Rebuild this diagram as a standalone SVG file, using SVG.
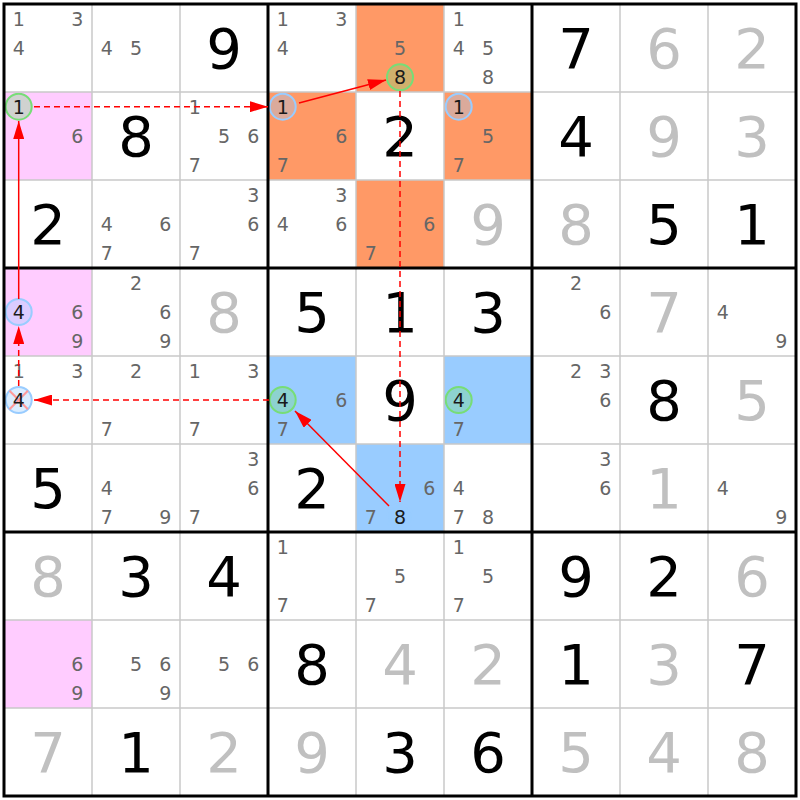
<svg xmlns="http://www.w3.org/2000/svg" width="800" height="800" viewBox="0 0 800 800">
<style>
.bg{fill:#ffffff}
.pink{fill:#ffccff}
.orange{fill:#ff9966}
.blue{fill:#99ccff}
.c{font-family:"DejaVu Sans","Liberation Sans",sans-serif;font-size:19px;fill:#666666;text-anchor:middle}
.cs{font-family:"DejaVu Sans","Liberation Sans",sans-serif;font-size:19px;fill:#1a1a1a;text-anchor:middle}
.g{font-family:"DejaVu Sans","Liberation Sans",sans-serif;font-size:56px;fill:#000000;text-anchor:middle}
.s{font-family:"DejaVu Sans","Liberation Sans",sans-serif;font-size:56px;fill:#c0c0c0;text-anchor:middle}
.rg{stroke:#77dd77;stroke-width:2;fill:#77dd77;fill-opacity:0.35}
.rb{stroke:#99ccff;stroke-width:2;fill:#99ccff;fill-opacity:0.35}
.thin{stroke:#c8c8c8;stroke-width:1.5}
.thick{stroke:#000000;stroke-width:3}
.ln{stroke:#ff0000;stroke-width:1.5;fill:none}
.dash{stroke-dasharray:6,4}
.x{stroke:#ff9999;stroke-width:2}
</style>
<defs>
<marker id="ah" markerUnits="userSpaceOnUse" markerWidth="18" markerHeight="11" refX="18" refY="5.5" orient="auto">
<path d="M0,0 L18,5.5 L0,11 Z" fill="#ff0000"/>
</marker>
</defs>
<rect x="0" y="0" width="800" height="800" fill="#ffffff"/>
<g id="cells">
<!-- Row 1 -->
<g id="r1c1" transform="translate(4,4)"><text class="c" x="14.7" y="21.6">1</text><text class="c" x="73.3" y="21.6">3</text><text class="c" x="14.7" y="50.9">4</text></g>
<g id="r1c2" transform="translate(92,4)"><text class="c" x="14.7" y="50.9">4</text><text class="c" x="44" y="50.9">5</text></g>
<g id="r1c3" transform="translate(180,4)"><text class="g" x="44" y="64.4">9</text></g>
<g id="r1c4" transform="translate(268,4)"><text class="c" x="14.7" y="21.6">1</text><text class="c" x="73.3" y="21.6">3</text><text class="c" x="14.7" y="50.9">4</text></g>
<g id="r1c5" transform="translate(356,4)"><rect class="orange" width="88" height="88"/><text class="c" x="44" y="50.9">5</text><circle class="rg" cx="44" cy="73.3" r="13"/><text class="cs" x="44" y="80.2">8</text></g>
<g id="r1c6" transform="translate(444,4)"><text class="c" x="14.7" y="21.6">1</text><text class="c" x="14.7" y="50.9">4</text><text class="c" x="44" y="50.9">5</text><text class="c" x="44" y="80.2">8</text></g>
<g id="r1c7" transform="translate(532,4)"><text class="g" x="44" y="64.4">7</text></g>
<g id="r1c8" transform="translate(620,4)"><text class="s" x="44" y="64.4">6</text></g>
<g id="r1c9" transform="translate(708,4)"><text class="s" x="44" y="64.4">2</text></g>
<!-- Row 2 -->
<g id="r2c1" transform="translate(4,92)"><rect class="pink" width="88" height="88"/><circle class="rg" cx="14.7" cy="14.7" r="13"/><text class="cs" x="14.7" y="21.6">1</text><text class="c" x="73.3" y="50.9">6</text></g>
<g id="r2c2" transform="translate(92,92)"><text class="g" x="44" y="64.4">8</text></g>
<g id="r2c3" transform="translate(180,92)"><text class="c" x="14.7" y="21.6">1</text><text class="c" x="44" y="50.9">5</text><text class="c" x="73.3" y="50.9">6</text><text class="c" x="14.7" y="80.2">7</text></g>
<g id="r2c4" transform="translate(268,92)"><rect class="orange" width="88" height="88"/><circle class="rb" cx="14.7" cy="14.7" r="13"/><text class="cs" x="14.7" y="21.6">1</text><text class="c" x="73.3" y="50.9">6</text><text class="c" x="14.7" y="80.2">7</text></g>
<g id="r2c5" transform="translate(356,92)"><text class="g" x="44" y="64.4">2</text></g>
<g id="r2c6" transform="translate(444,92)"><rect class="orange" width="88" height="88"/><circle class="rb" cx="14.7" cy="14.7" r="13"/><text class="cs" x="14.7" y="21.6">1</text><text class="c" x="44" y="50.9">5</text><text class="c" x="14.7" y="80.2">7</text></g>
<g id="r2c7" transform="translate(532,92)"><text class="g" x="44" y="64.4">4</text></g>
<g id="r2c8" transform="translate(620,92)"><text class="s" x="44" y="64.4">9</text></g>
<g id="r2c9" transform="translate(708,92)"><text class="s" x="44" y="64.4">3</text></g>
<!-- Row 3 -->
<g id="r3c1" transform="translate(4,180)"><text class="g" x="44" y="64.4">2</text></g>
<g id="r3c2" transform="translate(92,180)"><text class="c" x="14.7" y="50.9">4</text><text class="c" x="73.3" y="50.9">6</text><text class="c" x="14.7" y="80.2">7</text></g>
<g id="r3c3" transform="translate(180,180)"><text class="c" x="73.3" y="21.6">3</text><text class="c" x="73.3" y="50.9">6</text><text class="c" x="14.7" y="80.2">7</text></g>
<g id="r3c4" transform="translate(268,180)"><text class="c" x="73.3" y="21.6">3</text><text class="c" x="14.7" y="50.9">4</text><text class="c" x="73.3" y="50.9">6</text></g>
<g id="r3c5" transform="translate(356,180)"><rect class="orange" width="88" height="88"/><text class="c" x="73.3" y="50.9">6</text><text class="c" x="14.7" y="80.2">7</text></g>
<g id="r3c6" transform="translate(444,180)"><text class="s" x="44" y="64.4">9</text></g>
<g id="r3c7" transform="translate(532,180)"><text class="s" x="44" y="64.4">8</text></g>
<g id="r3c8" transform="translate(620,180)"><text class="g" x="44" y="64.4">5</text></g>
<g id="r3c9" transform="translate(708,180)"><text class="g" x="44" y="64.4">1</text></g>
<!-- Row 4 -->
<g id="r4c1" transform="translate(4,268)"><rect class="pink" width="88" height="88"/><circle class="rb" cx="14.7" cy="44" r="13"/><text class="cs" x="14.7" y="50.9">4</text><text class="c" x="73.3" y="50.9">6</text><text class="c" x="73.3" y="80.2">9</text></g>
<g id="r4c2" transform="translate(92,268)"><text class="c" x="44" y="21.6">2</text><text class="c" x="73.3" y="50.9">6</text><text class="c" x="73.3" y="80.2">9</text></g>
<g id="r4c3" transform="translate(180,268)"><text class="s" x="44" y="64.4">8</text></g>
<g id="r4c4" transform="translate(268,268)"><text class="g" x="44" y="64.4">5</text></g>
<g id="r4c5" transform="translate(356,268)"><text class="g" x="44" y="64.4">1</text></g>
<g id="r4c6" transform="translate(444,268)"><text class="g" x="44" y="64.4">3</text></g>
<g id="r4c7" transform="translate(532,268)"><text class="c" x="44" y="21.6">2</text><text class="c" x="73.3" y="50.9">6</text></g>
<g id="r4c8" transform="translate(620,268)"><text class="s" x="44" y="64.4">7</text></g>
<g id="r4c9" transform="translate(708,268)"><text class="c" x="14.7" y="50.9">4</text><text class="c" x="73.3" y="80.2">9</text></g>
<!-- Row 5 -->
<g id="r5c1" transform="translate(4,356)"><text class="c" x="14.7" y="21.6">1</text><text class="c" x="73.3" y="21.6">3</text><circle class="rb" cx="14.7" cy="44" r="13"/><line class="x" x1="5.5" y1="34.8" x2="23.9" y2="53.2"/><line class="x" x1="23.9" y1="34.8" x2="5.5" y2="53.2"/><text class="cs" x="14.7" y="50.9">4</text></g>
<g id="r5c2" transform="translate(92,356)"><text class="c" x="44" y="21.6">2</text><text class="c" x="14.7" y="80.2">7</text></g>
<g id="r5c3" transform="translate(180,356)"><text class="c" x="14.7" y="21.6">1</text><text class="c" x="73.3" y="21.6">3</text><text class="c" x="14.7" y="80.2">7</text></g>
<g id="r5c4" transform="translate(268,356)"><rect class="blue" width="88" height="88"/><circle class="rg" cx="14.7" cy="44" r="13"/><text class="cs" x="14.7" y="50.9">4</text><text class="c" x="73.3" y="50.9">6</text><text class="c" x="14.7" y="80.2">7</text></g>
<g id="r5c5" transform="translate(356,356)"><text class="g" x="44" y="64.4">9</text></g>
<g id="r5c6" transform="translate(444,356)"><rect class="blue" width="88" height="88"/><circle class="rg" cx="14.7" cy="44" r="13"/><text class="cs" x="14.7" y="50.9">4</text><text class="c" x="14.7" y="80.2">7</text></g>
<g id="r5c7" transform="translate(532,356)"><text class="c" x="44" y="21.6">2</text><text class="c" x="73.3" y="21.6">3</text><text class="c" x="73.3" y="50.9">6</text></g>
<g id="r5c8" transform="translate(620,356)"><text class="g" x="44" y="64.4">8</text></g>
<g id="r5c9" transform="translate(708,356)"><text class="s" x="44" y="64.4">5</text></g>
<!-- Row 6 -->
<g id="r6c1" transform="translate(4,444)"><text class="g" x="44" y="64.4">5</text></g>
<g id="r6c2" transform="translate(92,444)"><text class="c" x="14.7" y="50.9">4</text><text class="c" x="14.7" y="80.2">7</text><text class="c" x="73.3" y="80.2">9</text></g>
<g id="r6c3" transform="translate(180,444)"><text class="c" x="73.3" y="21.6">3</text><text class="c" x="73.3" y="50.9">6</text><text class="c" x="14.7" y="80.2">7</text></g>
<g id="r6c4" transform="translate(268,444)"><text class="g" x="44" y="64.4">2</text></g>
<g id="r6c5" transform="translate(356,444)"><rect class="blue" width="88" height="88"/><text class="c" x="73.3" y="50.9">6</text><text class="c" x="14.7" y="80.2">7</text><circle class="rb" cx="44" cy="73.3" r="13"/><text class="cs" x="44" y="80.2">8</text></g>
<g id="r6c6" transform="translate(444,444)"><text class="c" x="14.7" y="50.9">4</text><text class="c" x="14.7" y="80.2">7</text><text class="c" x="44" y="80.2">8</text></g>
<g id="r6c7" transform="translate(532,444)"><text class="c" x="73.3" y="21.6">3</text><text class="c" x="73.3" y="50.9">6</text></g>
<g id="r6c8" transform="translate(620,444)"><text class="s" x="44" y="64.4">1</text></g>
<g id="r6c9" transform="translate(708,444)"><text class="c" x="14.7" y="50.9">4</text><text class="c" x="73.3" y="80.2">9</text></g>
<!-- Row 7 -->
<g id="r7c1" transform="translate(4,532)"><text class="s" x="44" y="64.4">8</text></g>
<g id="r7c2" transform="translate(92,532)"><text class="g" x="44" y="64.4">3</text></g>
<g id="r7c3" transform="translate(180,532)"><text class="g" x="44" y="64.4">4</text></g>
<g id="r7c4" transform="translate(268,532)"><text class="c" x="14.7" y="21.6">1</text><text class="c" x="14.7" y="80.2">7</text></g>
<g id="r7c5" transform="translate(356,532)"><text class="c" x="44" y="50.9">5</text><text class="c" x="14.7" y="80.2">7</text></g>
<g id="r7c6" transform="translate(444,532)"><text class="c" x="14.7" y="21.6">1</text><text class="c" x="44" y="50.9">5</text><text class="c" x="14.7" y="80.2">7</text></g>
<g id="r7c7" transform="translate(532,532)"><text class="g" x="44" y="64.4">9</text></g>
<g id="r7c8" transform="translate(620,532)"><text class="g" x="44" y="64.4">2</text></g>
<g id="r7c9" transform="translate(708,532)"><text class="s" x="44" y="64.4">6</text></g>
<!-- Row 8 -->
<g id="r8c1" transform="translate(4,620)"><rect class="pink" width="88" height="88"/><text class="c" x="73.3" y="50.9">6</text><text class="c" x="73.3" y="80.2">9</text></g>
<g id="r8c2" transform="translate(92,620)"><text class="c" x="44" y="50.9">5</text><text class="c" x="73.3" y="50.9">6</text><text class="c" x="73.3" y="80.2">9</text></g>
<g id="r8c3" transform="translate(180,620)"><text class="c" x="44" y="50.9">5</text><text class="c" x="73.3" y="50.9">6</text></g>
<g id="r8c4" transform="translate(268,620)"><text class="g" x="44" y="64.4">8</text></g>
<g id="r8c5" transform="translate(356,620)"><text class="s" x="44" y="64.4">4</text></g>
<g id="r8c6" transform="translate(444,620)"><text class="s" x="44" y="64.4">2</text></g>
<g id="r8c7" transform="translate(532,620)"><text class="g" x="44" y="64.4">1</text></g>
<g id="r8c8" transform="translate(620,620)"><text class="s" x="44" y="64.4">3</text></g>
<g id="r8c9" transform="translate(708,620)"><text class="g" x="44" y="64.4">7</text></g>
<!-- Row 9 -->
<g id="r9c1" transform="translate(4,708)"><text class="s" x="44" y="64.4">7</text></g>
<g id="r9c2" transform="translate(92,708)"><text class="g" x="44" y="64.4">1</text></g>
<g id="r9c3" transform="translate(180,708)"><text class="s" x="44" y="64.4">2</text></g>
<g id="r9c4" transform="translate(268,708)"><text class="s" x="44" y="64.4">9</text></g>
<g id="r9c5" transform="translate(356,708)"><text class="g" x="44" y="64.4">3</text></g>
<g id="r9c6" transform="translate(444,708)"><text class="g" x="44" y="64.4">6</text></g>
<g id="r9c7" transform="translate(532,708)"><text class="s" x="44" y="64.4">5</text></g>
<g id="r9c8" transform="translate(620,708)"><text class="s" x="44" y="64.4">4</text></g>
<g id="r9c9" transform="translate(708,708)"><text class="s" x="44" y="64.4">8</text></g>
</g>
<g id="grid">
<g class="thin">
<line x1="92" y1="4" x2="92" y2="796"/><line x1="180" y1="4" x2="180" y2="796"/>
<line x1="356" y1="4" x2="356" y2="796"/><line x1="444" y1="4" x2="444" y2="796"/>
<line x1="620" y1="4" x2="620" y2="796"/><line x1="708" y1="4" x2="708" y2="796"/>
<line x1="4" y1="92" x2="796" y2="92"/><line x1="4" y1="180" x2="796" y2="180"/>
<line x1="4" y1="356" x2="796" y2="356"/><line x1="4" y1="444" x2="796" y2="444"/>
<line x1="4" y1="620" x2="796" y2="620"/><line x1="4" y1="708" x2="796" y2="708"/>
</g>
<g class="thick">
<line x1="268" y1="4" x2="268" y2="796"/><line x1="532" y1="4" x2="532" y2="796"/>
<line x1="4" y1="268" x2="796" y2="268"/><line x1="4" y1="532" x2="796" y2="532"/>
<rect x="4" y="4" width="792" height="792" fill="none"/>
</g>
</g>
<g id="connectors">
<line class="ln" x1="18.7" y1="299" x2="18.7" y2="121" marker-end="url(#ah)"/>
<line class="ln dash" x1="18.7" y1="386" x2="18.7" y2="326" marker-end="url(#ah)"/>
<line class="ln dash" x1="269" y1="400" x2="34" y2="400" marker-end="url(#ah)"/>
<line class="ln" x1="389" y1="506" x2="295" y2="411" marker-end="url(#ah)"/>
<line class="ln dash" x1="400" y1="91" x2="400" y2="502" marker-end="url(#ah)"/>
<line class="ln" x1="299" y1="103" x2="386" y2="80" marker-end="url(#ah)"/>
<line class="ln dash" x1="34" y1="106.7" x2="268" y2="106.7" marker-end="url(#ah)"/>
</g>
</svg>
